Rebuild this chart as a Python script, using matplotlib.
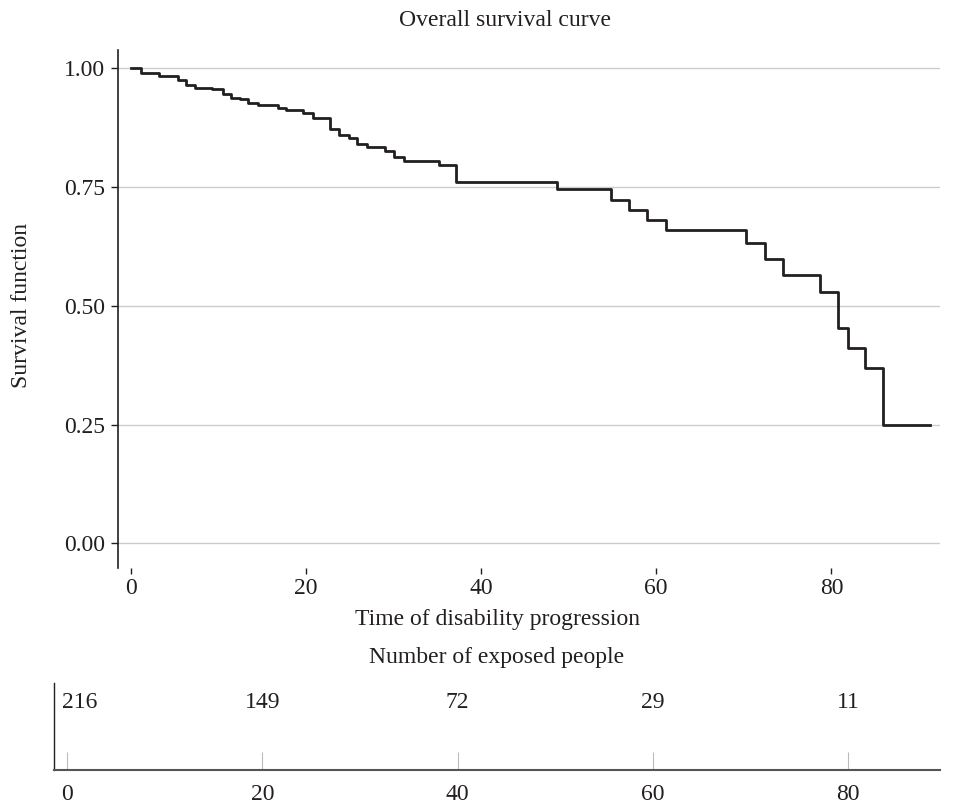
import matplotlib
matplotlib.use("Agg")
import matplotlib.pyplot as plt

plt.rcParams['font.family'] = ['Liberation Serif', 'DejaVu Serif']

# Kaplan-Meier steps
times = [0, 1.2, 3.3, 5.4, 6.3, 7.4, 9.3, 10.5, 11.5, 12.5, 13.4, 14.6, 16.8, 17.7,
         19.7, 20.8, 22.8, 23.8, 24.9, 25.9, 27.0, 29.1, 30.1, 31.2, 35.2, 37.2,
         48.7, 54.8, 56.9, 59.0, 61.1, 70.3, 72.4, 74.5, 78.7, 80.8, 81.9, 83.8, 85.9]
surv = [1.0, 0.991, 0.984, 0.975, 0.966, 0.959, 0.956, 0.947, 0.938, 0.935, 0.928,
        0.924, 0.917, 0.912, 0.906, 0.896, 0.872, 0.860, 0.854, 0.841, 0.834, 0.827,
        0.813, 0.806, 0.796, 0.761, 0.747, 0.724, 0.703, 0.680, 0.660, 0.633, 0.599,
        0.566, 0.529, 0.454, 0.412, 0.370, 0.25]
t_end = 91.2

yticks = [0.0, 0.25, 0.5, 0.75, 1.0]
ytick_labels = ["0.00", "0.25", "0.50", "0.75", "1.00"]
xticks = [0, 20, 40, 60, 80]
at_risk = [216, 149, 72, 29, 11]

dark = "#231f20"
fs = 17

fig = plt.figure(figsize=(9.61, 8.07), dpi=100)

ax = fig.add_axes([0.1228, 0.2962, 0.8554, 0.6419])
ax.step(times + [t_end], surv + [surv[-1]], where="post", color=dark, lw=2.0, zorder=3)
ax.set_xlim(-1.43, 92.4)
ax.set_ylim(-0.0516, 1.039)
ax.set_yticks(yticks)
ax.set_yticklabels(ytick_labels)
ax.set_xticks(xticks)
ax.yaxis.grid(True, color="#cccccc", lw=1.0)
ax.set_axisbelow(True)
for s in ["top", "right", "bottom"]:
    ax.spines[s].set_visible(False)
ax.spines["left"].set_color(dark)
ax.spines["left"].set_linewidth(1.2)
ax.tick_params(axis="y", length=5, width=1, color=dark, labelsize=fs, labelcolor=dark, pad=4)
ax.tick_params(axis="x", length=4, width=1, color=dark, labelsize=fs, labelcolor=dark, pad=3)

fig.text(22 / 961, 1 - 305 / 807, "Survival function", rotation=90, ha="center",
         va="center", fontsize=fs, color=dark)
fig.text(505 / 961, 1 - 20 / 807, "Overall survival curve", ha="center", va="center",
         fontsize=fs, color=dark)
fig.text(497 / 961, 1 - 620 / 807, "Time of disability progression", ha="center",
         va="center", fontsize=fs, color=dark)
fig.text(497 / 961, 1 - 657 / 807, "Number of exposed people", ha="center",
         va="center", fontsize=fs, color=dark)

# at-risk table
ax2 = fig.add_axes([0.0562, 0.0458, 0.9219, 0.108])
ax2.set_xlim(-1.34, 89.4)
ax2.set_ylim(0, 1)
ax2.set_xticks(xticks)
ax2.set_yticks([])
for s in ["top", "right"]:
    ax2.spines[s].set_visible(False)
ax2.spines["left"].set_color(dark)
ax2.spines["left"].set_linewidth(1.0)
ax2.spines["bottom"].set_color("#555555")
ax2.spines["bottom"].set_linewidth(1.5)
ax2.tick_params(axis="x", direction="in", length=13, width=0.8, color="#bbbbbb",
                labelsize=fs, labelcolor=dark, pad=10)
for i, (t, n) in enumerate(zip(xticks, at_risk)):
    if i == 0:
        ax2.text(t - 0.5, 0.78, str(n), ha="left", va="center", fontsize=fs, color=dark)
    else:
        ax2.text(t, 0.78, str(n), ha="center", va="center", fontsize=fs, color=dark)

fig.savefig("out.png", dpi=100)
